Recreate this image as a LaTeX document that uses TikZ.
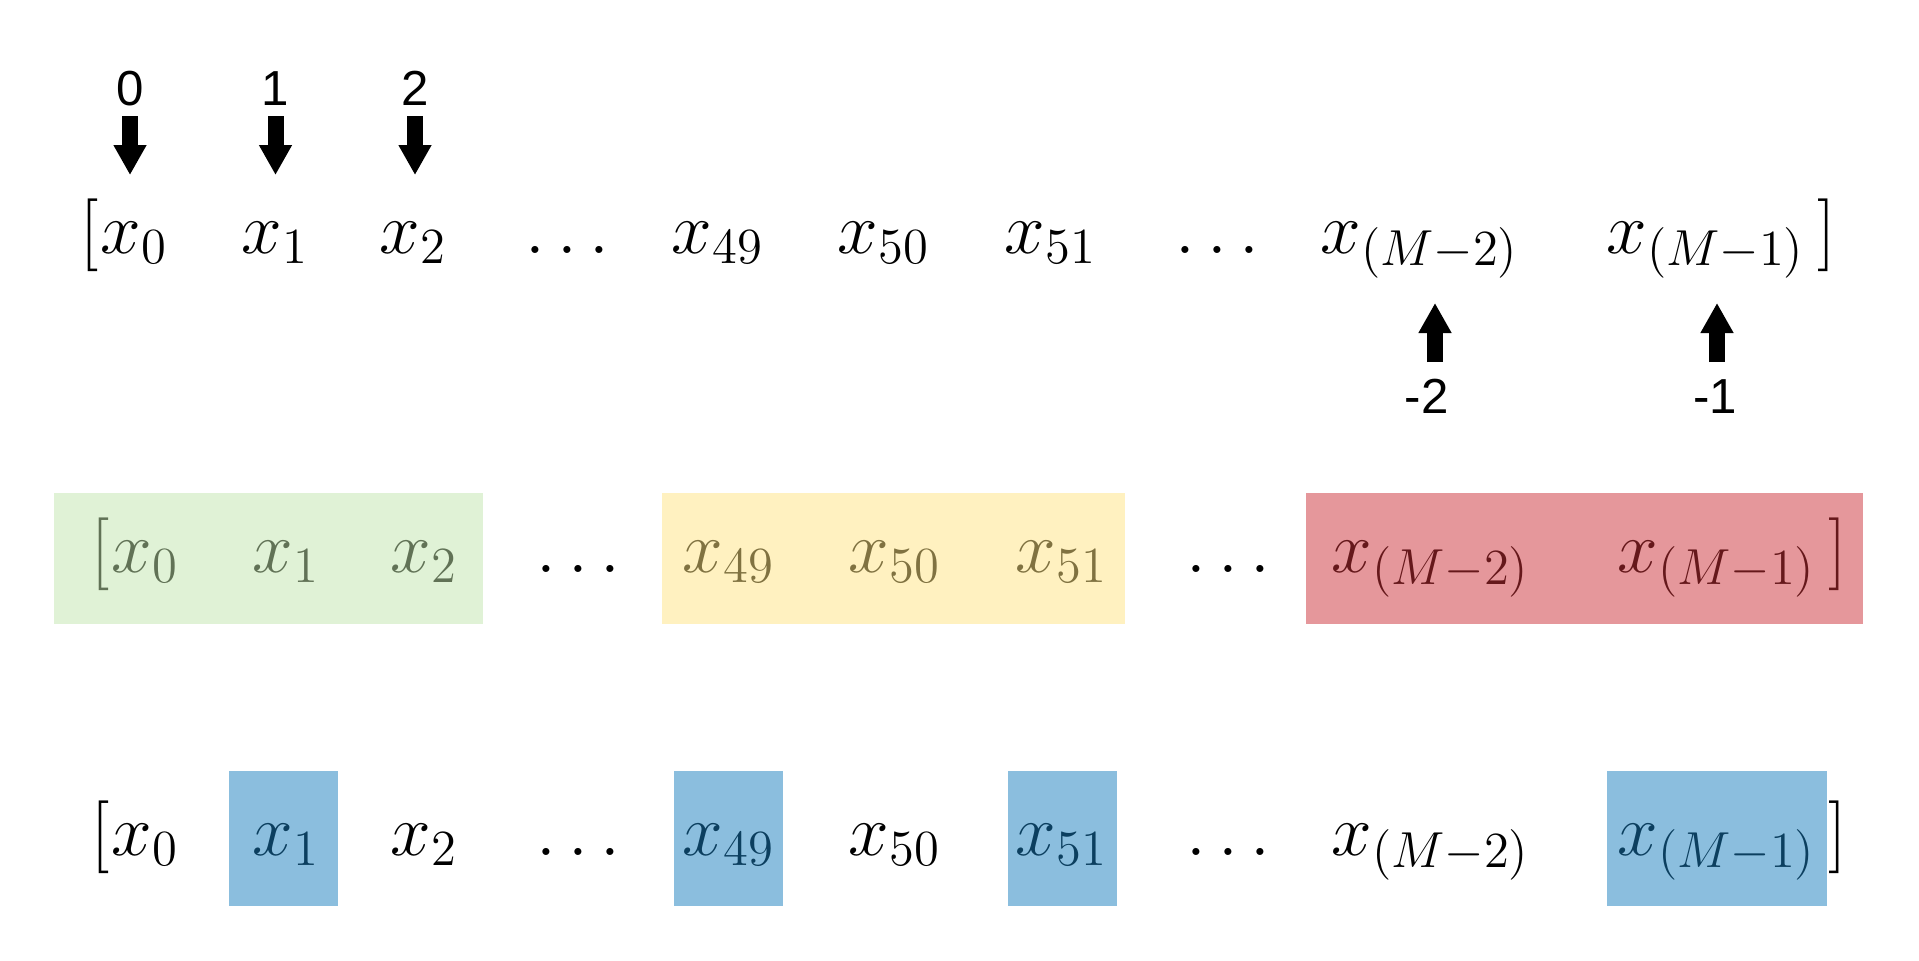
\documentclass[tikz,border=0pt]{standalone}
\usepackage{fontspec}
\newfontfamily\idxfont{Liberation Sans}
\usetikzlibrary{arrows.meta}

\definecolor{boxgreen}{RGB}{194,229,173}
\definecolor{boxyellow}{RGB}{255,228,130}
\definecolor{boxred}{RGB}{203,48,55}
\definecolor{boxblue}{RGB}{24,126,190}

\tikzset{
	elem/.style={inner sep=0pt, anchor=base west, font=\huge},
	idx/.style={inner sep=0pt, anchor=base, font=\idxfont\fontsize{14}{17}\selectfont},
	idxarrow/.style={line width=0.16cm, -{Triangle[width=0.31cm,length=0.30cm]}},
	hilite/.style={fill opacity=0.5}
}

\begin{document}
\begin{tikzpicture}
	\useasboundingbox (0,0) rectangle (19.19,9.60);
	
	% --- 1. 三行数组元素 ---
	% 每行: 名称 / 基线高度 / 水平偏移
	\foreach \r/\y/\dx in {a/7.07/0, b/3.88/0.11, c/1.05/0.11} {
		\node[elem] (\r L) at (0.80+\dx,\y) {$\bigl[$};
		\foreach \n/\x/\t in {0/1.00/x_0, 1/2.41/x_1, 2/3.79/x_2, d1/5.25/\dots,
			49/6.71/x_{49}, 50/8.37/x_{50}, 51/10.04/x_{51}, d2/11.75/\dots,
			m2/13.20/x_{(M-2)}, m1/16.06/x_{(M-1)}}
			\node[elem] (\r\n) at (\x+\dx,\y) {$\t$};
		\node[elem] (\r R) at (18.17+\dx,\y) {$\bigr]$};
	}
	
	% --- 2. 正向下标 0, 1, 2 ---
	\foreach \n/\x in {0/1.30, 1/2.755, 2/4.15} {
		\node[idx] (i\n) at (\x,8.55) {\n};
		\coordinate (t\n) at (\x,7.85);
		\draw[idxarrow] ([yshift=-0.11cm]i\n.base) -- (t\n);
	}
	
	% --- 3. 负向下标 -2, -1 ---
	\node[idx] (j2) at (14.265,5.47) {-2};
	\node[idx] (j1) at (17.15,5.47) {-1};
	\coordinate (s2) at (14.35,5.98);
	\coordinate (s1) at (17.17,5.98);
	\draw[idxarrow] (s2) -- ++(0,0.59);
	\draw[idxarrow] (s1) -- ++(0,0.59);
	
	% --- 4. 彩色分组(半透明覆盖在文字上) ---
	\fill[hilite, boxgreen]  (0.54,4.67) rectangle (4.83,3.36);
	\fill[hilite, boxyellow] (6.62,4.67) rectangle (11.25,3.36);
	\fill[hilite, boxred]    (13.06,4.67) rectangle (18.63,3.36);
	
	% 第三行: 隔一个取一个
	\foreach \xa/\xb in {2.29/3.38, 6.74/7.83, 10.08/11.17, 16.07/18.27}
		\fill[hilite, boxblue] (\xa,1.89) rectangle (\xb,0.54);
	
\end{tikzpicture}
\end{document}
